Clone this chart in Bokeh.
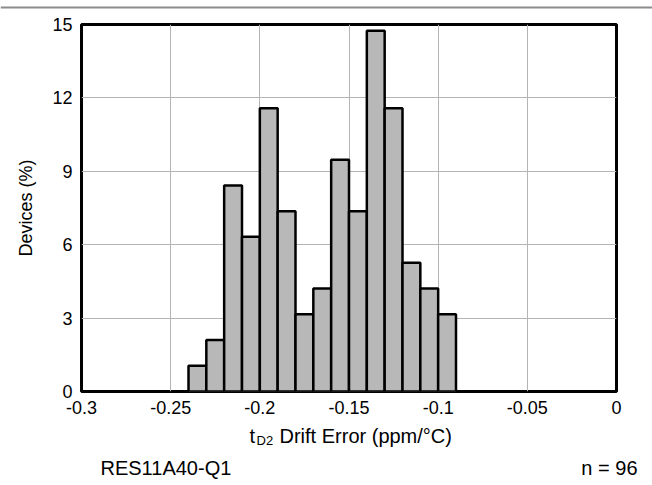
from bokeh.plotting import figure
from bokeh.models import FixedTicker, Range1d
from bokeh.layouts import column
from bokeh.embed import file_html
from bokeh.resources import INLINE
from bokeh.core.properties import value

# Data
bin_left = [-0.24, -0.23, -0.22, -0.21, -0.20, -0.19, -0.18, -0.17, -0.16, -0.15, -0.14, -0.13, -0.12, -0.11, -0.10]
bin_right = [-0.23, -0.22, -0.21, -0.20, -0.19, -0.18, -0.17, -0.16, -0.15, -0.14, -0.13, -0.12, -0.11, -0.10, -0.09]
devices_pct = [1.05, 2.11, 8.42, 6.32, 11.58, 7.37, 3.16, 4.21, 9.47, 7.37, 14.74, 11.58, 5.26, 4.21, 3.16]
x_ticks = [-0.3, -0.25, -0.2, -0.15, -0.1, -0.05, 0]
x_tick_labels = {-0.3: "-0.3", -0.25: "-0.25", -0.2: "-0.2", -0.15: "-0.15", -0.1: "-0.1", -0.05: "-0.05", 0: "0"}
y_ticks = [0, 3, 6, 9, 12, 15]
y_label = "Devices (%)"
x_label_t = "t"
x_label_sub = "D2"
x_label_main = "Drift Error (ppm/°C)"
footer_left = "RES11A40-Q1"
footer_right = "n = 96"

FONT = "Liberation Sans"
W = 652

# --- top rule ---
top = figure(width=W, height=10, output_backend="svg", toolbar_location=None,
             x_range=Range1d(0, W), y_range=Range1d(10, 0), frame_align=False,
             min_border_left=0, min_border_right=0, min_border_top=0, min_border_bottom=0)
top.axis.visible = False
top.grid.visible = False
top.outline_line_color = None
top.hspan(y=[5], line_color="#8c8c8c", line_width=2)

# --- main chart ---
p = figure(width=W, height=412, output_backend="svg", toolbar_location=None,
           x_range=Range1d(-0.3, 0), y_range=Range1d(0, 15), frame_align=False,
           min_border_left=81, min_border_right=36, min_border_top=14, min_border_bottom=31)
p.background_fill_color = "white"
p.border_fill_color = "white"
p.outline_line_color = "black"
p.outline_line_width = 3

p.quad(left=bin_left, right=bin_right, bottom=0, top=devices_pct,
       fill_color="#b8b8b8", line_color="black", line_width=2.5)

p.xaxis.ticker = FixedTicker(ticks=x_ticks)
p.xaxis.major_label_overrides = x_tick_labels
p.yaxis.ticker = FixedTicker(ticks=y_ticks)
for ax in (p.xaxis, p.yaxis):
    ax.axis_line_color = None
    ax.major_tick_line_color = None
    ax.minor_tick_line_color = None
    ax.major_tick_in = 0
    ax.major_tick_out = 0
    ax.minor_tick_in = 0
    ax.minor_tick_out = 0
    ax.major_label_text_font = FONT
    ax.major_label_text_font_size = "18px"
    ax.major_label_text_color = "black"
p.xaxis.major_label_standoff = 9
p.yaxis.major_label_standoff = 9
p.yaxis.axis_label = y_label
p.yaxis.axis_label_text_font = FONT
p.yaxis.axis_label_text_font_size = "18px"
p.yaxis.axis_label_text_font_style = "normal"
p.yaxis.axis_label_text_color = "black"
p.yaxis.axis_label_standoff = 13

p.xgrid.ticker = FixedTicker(ticks=x_ticks)
p.ygrid.ticker = FixedTicker(ticks=y_ticks)
p.grid.grid_line_color = "#b4b4b4"
p.grid.grid_line_width = 1
p.grid.grid_line_alpha = 1

# --- bottom text strip (x title with subscript, footer) ---
bot = figure(width=W, height=63, output_backend="svg", toolbar_location=None,
             x_range=Range1d(0, W), y_range=Range1d(63, 0), frame_align=False,
             min_border_left=0, min_border_right=0, min_border_top=0, min_border_bottom=0)
bot.axis.visible = False
bot.grid.visible = False
bot.outline_line_color = None

bot.text(x=[249], y=[13], text=[x_label_t], text_font=value(FONT), text_font_size="20px",
         text_align="left", text_baseline="middle", text_color="black")
bot.text(x=[256], y=[18], text=[x_label_sub], text_font=value(FONT), text_font_size="13px",
         text_align="left", text_baseline="middle", text_color="black")
bot.text(x=[279], y=[13], text=[x_label_main], text_font=value(FONT), text_font_size="20px",
         text_align="left", text_baseline="middle", text_color="black")
bot.text(x=[100], y=[45], text=[footer_left], text_font=value(FONT), text_font_size="20px",
         text_align="left", text_baseline="middle", text_color="black")
bot.text(x=[637], y=[45], text=[footer_right], text_font=value(FONT), text_font_size="20px",
         text_align="right", text_baseline="middle", text_color="black")

layout = column(top, p, bot, spacing=0)
open("out.html", "w").write(file_html(layout, INLINE))
